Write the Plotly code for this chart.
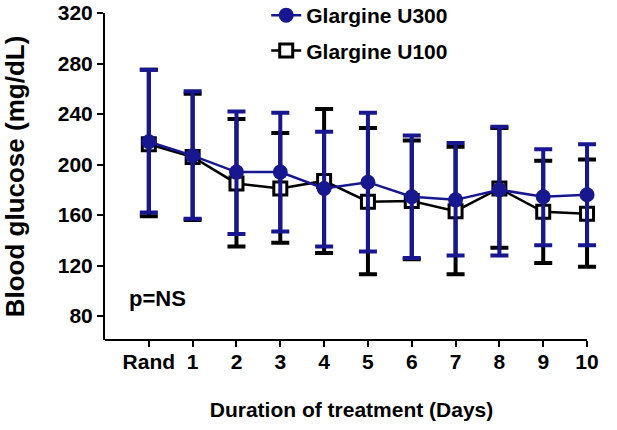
import plotly.graph_objects as go

days = ["Rand", "1", "2", "3", "4", "5", "6", "7", "8", "9", "10"]
x_pos = [0, 1, 2, 3, 4, 5, 6, 7, 8, 9, 10]

u300_mean = [218, 207, 194, 194, 181, 186, 174.5, 172, 180, 174.5, 176]
u300_upper = [275, 258, 242, 241, 226, 241, 223, 217, 230, 212, 216]
u300_lower = [162, 157, 145, 147, 135, 131, 126, 128, 128, 136, 136]

u100_mean = [216, 206, 185, 181, 187, 170.5, 171, 163, 181, 162.5, 161]
u100_upper = [275, 256, 236, 225, 244, 229, 219, 214, 229, 203, 204]
u100_lower = [159, 156, 135, 138, 130, 113, 125, 113, 134, 122, 119]

y_ticks = [80, 120, 160, 200, 240, 280, 320]

BLUE = "#17178f"
FONT = "Liberation Sans, Arial, sans-serif"

fig = go.Figure()

fig.add_trace(go.Scatter(
    x=x_pos, y=u100_mean, name="Glargine U100", mode="lines+markers",
    line=dict(color="black", width=2.5),
    marker=dict(symbol="square", size=13, color="white",
                line=dict(color="black", width=3)),
    error_y=dict(type="data", symmetric=False,
                 array=[u - m for u, m in zip(u100_upper, u100_mean)],
                 arrayminus=[m - l for m, l in zip(u100_mean, u100_lower)],
                 color="black", thickness=4, width=9),
    legendrank=2, legendgroup="b", cliponaxis=False,
))

fig.add_trace(go.Scatter(
    x=x_pos, y=u300_mean, name="Glargine U300", mode="lines+markers",
    line=dict(color=BLUE, width=2.5),
    marker=dict(symbol="circle", size=15, color=BLUE),
    error_y=dict(type="data", symmetric=False,
                 array=[u - m for u, m in zip(u300_upper, u300_mean)],
                 arrayminus=[m - l for m, l in zip(u300_mean, u300_lower)],
                 color=BLUE, thickness=4, width=9),
    legendrank=1, legendgroup="a", cliponaxis=False,
))

fig.add_annotation(x=-0.5, y=93.5, text="p=NS", showarrow=False,
                   xanchor="left", yanchor="middle",
                   font=dict(family=FONT, size=22, color="black", weight="bold"))

# x-axis baseline drawn only from the axis start to the last category
fig.add_shape(type="line", xref="x", yref="paper", x0=-1, x1=10, y0=0, y1=0,
              line=dict(color="black", width=2), layer="above")

fig.update_layout(
    width=617, height=430,
    margin=dict(l=105, r=19, t=13, b=90, autoexpand=False),
    plot_bgcolor="white", paper_bgcolor="white",
    font=dict(family=FONT, size=21, color="black", weight="bold"),
    legend=dict(x=0.327, y=1.055, xanchor="left", yanchor="top",
                bgcolor="rgba(0,0,0,0)", font=dict(size=21, weight="bold"),
                tracegroupgap=5, traceorder="grouped"),
    showlegend=True,
)

fig.update_xaxes(
    range=[-1, 10.25], tickvals=x_pos, ticktext=days,
    showline=False,
    ticks="outside", ticklen=6, tickwidth=2, tickcolor="black",
    ticklabelstandoff=-3,
    showgrid=False, zeroline=False, automargin=False,
    title=dict(text="Duration of treatment (Days)", standoff=30,
               font=dict(size=21, weight="bold")),
)
fig.update_yaxes(
    range=[61, 320], tickvals=y_ticks,
    showline=True, linecolor="black", linewidth=2,
    ticks="outside", ticklen=6, tickwidth=2, tickcolor="black",
    ticklabeloverflow="allow",
    showgrid=False, zeroline=False, automargin=False,
    title=dict(text="Blood glucose (mg/dL)", standoff=26,
               font=dict(size=26, weight="bold")),
)

fig.write_html("out.html", config={"displayModeBar": False},
               post_script="document.body.style.margin='0';")
